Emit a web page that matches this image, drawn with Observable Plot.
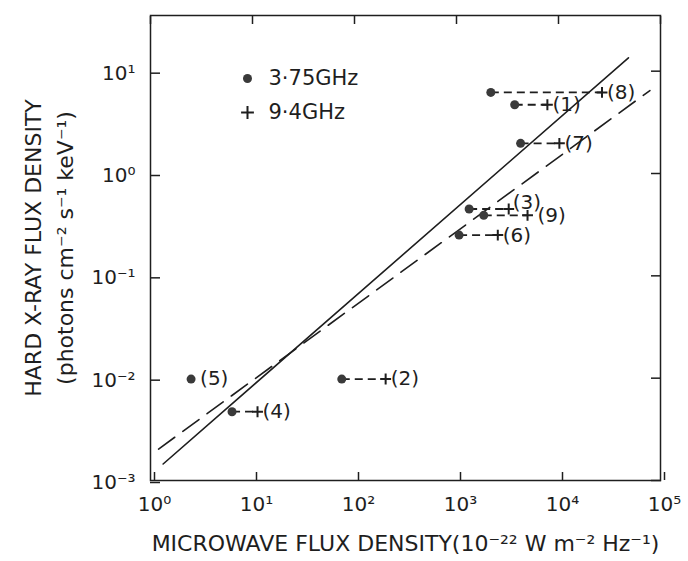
<!DOCTYPE html>
<html><head><meta charset="utf-8">
<script src="https://cdn.jsdelivr.net/npm/d3@7"></script>
<script src="https://cdn.jsdelivr.net/npm/@observablehq/plot@0.6"></script>
<style>body{margin:0;background:#fff;} #chart svg{display:block;}</style>
</head><body><div id="chart"></div>
<script>
// Events
const events = ["(1)","(2)","(3)","(4)","(5)","(6)","(7)","(8)","(9)"];
// Microwave flux density at 3.75 GHz (10^-22 W m^-2 Hz^-1)
const flux375 = [3720, 75, 1330, 6.3, 2.5, 1060, 4250, 2170, 1850];
// Microwave flux density at 9.4 GHz (null = not observed)
const flux94 = [7780, 202, 3250, 11.2, null, 2540, 10200, 26700, 4970];
// Hard X-ray flux density (photons cm^-2 s^-1 keV^-1)
const hxr = [4.7, 0.0098, 0.45, 0.0047, 0.0098, 0.25, 1.97, 6.2, 0.39];
// Fitted power-law lines (end points)
const fitSolidX = [1.33, 48500];
const fitSolidY = [0.00145, 13.5];
const fitDashedX = [1.2, 78700];
const fitDashedY = [0.00203, 6.47];
// Axes
const xTicks = [1, 10, 100, 1e3, 1e4, 1e5];
const yTicks = [1e-3, 1e-2, 1e-1, 1, 10];
const legendLabels = ["3·75GHz", "9·4GHz"];
const xLabel = "MICROWAVE FLUX DENSITY(10⁻²² W m⁻² Hz⁻¹)";
const yLabel1 = "HARD X-RAY FLUX DENSITY";
const yLabel2 = "(photons cm⁻² s⁻¹ keV⁻¹)";

const rows = events.map((e, i) => ({label: e, x1: flux375[i], x2: flux94[i], y: hxr[i]}));
const pairs = rows.filter(d => d.x2 != null);
const fitsS = fitSolidX.map((x, i) => ({x, y: fitSolidY[i]}));
const fitsD = fitDashedX.map((x, i) => ({x, y: fitDashedY[i]}));

const supMap = {"-":"⁻","0":"⁰","1":"¹","2":"²","3":"³","4":"⁴","5":"⁵","6":"⁶","7":"⁷","8":"⁸","9":"⁹"};
const sup = v => "10" + String(Math.round(Math.log10(v))).split("").map(c => supMap[c]).join("");

const ink = "#1e1e1e";
const FONT = "DejaVu Sans";

const plot = Plot.plot({
  width: 688, height: 561,
  marginLeft: 150, marginRight: 28, marginTop: 15, marginBottom: 81,
  style: {fontFamily: FONT, color: ink, background: "#fff"},
  x: {type: "log", domain: [1, 1e5]},
  y: {type: "log", domain: [1e-3, 35]},
  marks: [
    Plot.frame({stroke: ink, strokeWidth: 1.5}),
    Plot.axisX(xTicks, {anchor: "bottom", tickSize: -8, tickPadding: 24, tickFormat: sup, fontSize: 20, dx: 4, label: null, stroke: ink, strokeWidth: 1.5}),
    Plot.axisX(xTicks, {anchor: "top", tickSize: -8, tickFormat: () => "", label: null, stroke: ink, strokeWidth: 1.5}),
    Plot.axisY(yTicks, {anchor: "left", tickSize: -10, tickPadding: 25, tickFormat: sup, fontSize: 20, dy: 2, label: null, stroke: ink, strokeWidth: 1.5}),
    Plot.axisY(yTicks, {anchor: "right", tickSize: -10, tickFormat: () => "", label: null, stroke: ink, strokeWidth: 1.5}),
    Plot.line(fitsS, {x: "x", y: "y", stroke: ink, strokeWidth: 1.6}),
    Plot.line(fitsD, {x: "x", y: "y", stroke: ink, strokeWidth: 1.6, strokeDasharray: "20,10"}),
    Plot.link(pairs, {x1: "x1", x2: "x2", y1: "y", y2: "y", stroke: ink, strokeWidth: 1.8, strokeDasharray: "8,5"}),
    Plot.dot(rows, {x: "x1", y: "y", r: 4.5, fill: "#3a3a3a"}),
    Plot.dot(pairs, {x: "x2", y: "y", symbol: "plus", r: 3.6, stroke: ink, strokeWidth: 2}),
    Plot.text(pairs.filter(d => d.label !== "(3)" && d.label !== "(9)"), {x: "x2", y: "y", text: "label", textAnchor: "start", dx: 5, fontSize: 20, fill: ink}),
    Plot.text(pairs.filter(d => d.label === "(3)"), {x: "x2", y: "y", text: "label", textAnchor: "start", dx: 4, dy: -6, fontSize: 20, fill: ink}),
    Plot.text(pairs.filter(d => d.label === "(9)"), {x: "x2", y: "y", text: "label", textAnchor: "start", dx: 10, fontSize: 20, fill: ink}),
    Plot.text(rows.filter(d => d.x2 == null), {x: "x1", y: "y", text: "label", textAnchor: "start", dx: 9, fontSize: 20, fill: ink}),
    // legend
    Plot.dot([legendLabels[0]], {frameAnchor: "top-left", dx: 97, dy: 63, r: 4.5, fill: "#3a3a3a"}),
    Plot.dot([legendLabels[1]], {frameAnchor: "top-left", dx: 97, dy: 97, symbol: "plus", r: 4.2, stroke: ink, strokeWidth: 2}),
    Plot.text([legendLabels[0]], {frameAnchor: "top-left", dx: 118, dy: 63, text: d => d, textAnchor: "start", lineAnchor: "middle", fontSize: 21, fill: ink}),
    Plot.text([legendLabels[1]], {frameAnchor: "top-left", dx: 118, dy: 97, text: d => d, textAnchor: "start", lineAnchor: "middle", fontSize: 21, fill: ink}),
    // axis titles
    Plot.text([xLabel], {frameAnchor: "bottom", dy: 70, text: d => d, fontSize: 22, fill: ink}),
    Plot.text([yLabel1 + "\n" + yLabel2], {frameAnchor: "left", dx: -104, rotate: -90, textAnchor: "middle", lineAnchor: "middle", text: d => d, lineHeight: 1.45, fontSize: 22, fill: ink})
  ]
});
document.getElementById("chart").appendChild(plot);
</script>
</body></html>
